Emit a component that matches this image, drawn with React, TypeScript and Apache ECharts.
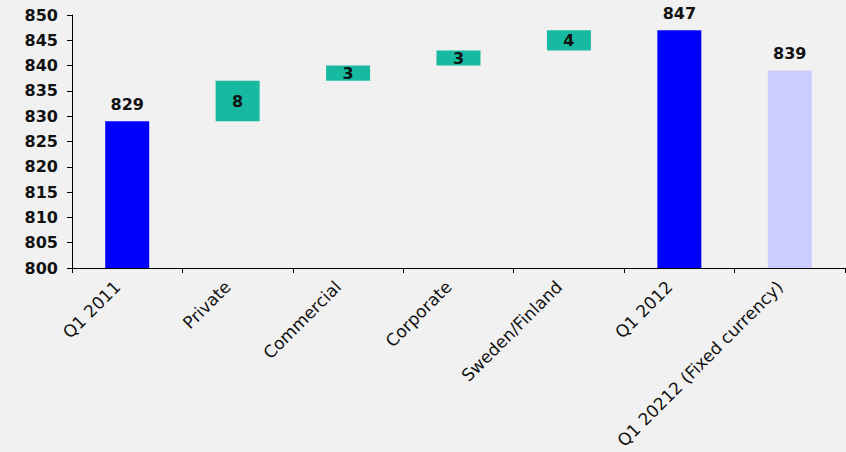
import React, { useEffect, useRef } from "react";
import * as echarts from "echarts";

const categories = ["Q1 2011", "Private", "Commercial", "Corporate", "Sweden/Finland", "Q1 2012", "Q1 20212 (Fixed currency)"];
const baseValues = [0, 829, 837, 840, 843, 0, 0];
const shownValues = [829, 8, 3, 3, 4, 847, 839];
const kinds = ["total", "delta", "delta", "delta", "delta", "total", "fixed"];
const yTicks = { min: 800, max: 850, interval: 5 };

const colors: Record<string, string> = { total: "#0000ff", delta: "#17b9a0", fixed: "#ccccff" };

export default function App() {
  const ref = useRef<HTMLDivElement>(null);
  useEffect(() => {
    document.body.style.margin = "0";
    document.body.style.background = "#f1f1f1";
    const chart = echarts.init(ref.current!, null, { renderer: "svg" });
    const font = "DejaVu Sans";
    chart.setOption({
      animation: false,
      backgroundColor: "#f1f1f1",
      grid: { left: 72, right: 1, top: 15, bottom: 184, containLabel: false },
      xAxis: {
        type: "category",
        data: categories,
        axisLine: { lineStyle: { color: "#000", width: 1 } },
        axisTick: { show: true, length: 5, lineStyle: { color: "#000" } },
        axisLabel: {
          rotate: 45, interval: 0, color: "#111", fontFamily: font, fontSize: 17, fontWeight: 500,
          margin: 6, padding: [0, 14, 0, 0],
        },
      },
      yAxis: {
        type: "value",
        min: yTicks.min,
        max: yTicks.max,
        interval: yTicks.interval,
        splitLine: { show: false },
        axisLine: { show: true, lineStyle: { color: "#000", width: 1 } },
        axisTick: { show: true, length: 5, lineStyle: { color: "#000" } },
        axisLabel: { color: "#111", fontFamily: font, fontSize: 16, fontWeight: "bold", margin: 14 },
      },
      series: [
        {
          type: "bar",
          stack: "w",
          barWidth: 44,
          itemStyle: { color: "transparent" },
          data: baseValues,
          silent: true,
        },
        {
          type: "bar",
          stack: "w",
          barWidth: 44,
          data: shownValues.map((v, i) => ({
            value: v,
            itemStyle: { color: colors[kinds[i]] },
            label: {
              show: true,
              position: kinds[i] === "delta" ? "inside" : "top",
              distance: 9,
              color: "#111",
              fontFamily: font,
              fontSize: 16,
              fontWeight: "bold",
            },
          })),
        },
      ],
    });
    return () => chart.dispose();
  }, []);
  return <div ref={ref} style={{ width: 846, height: 452 }} />;
}
